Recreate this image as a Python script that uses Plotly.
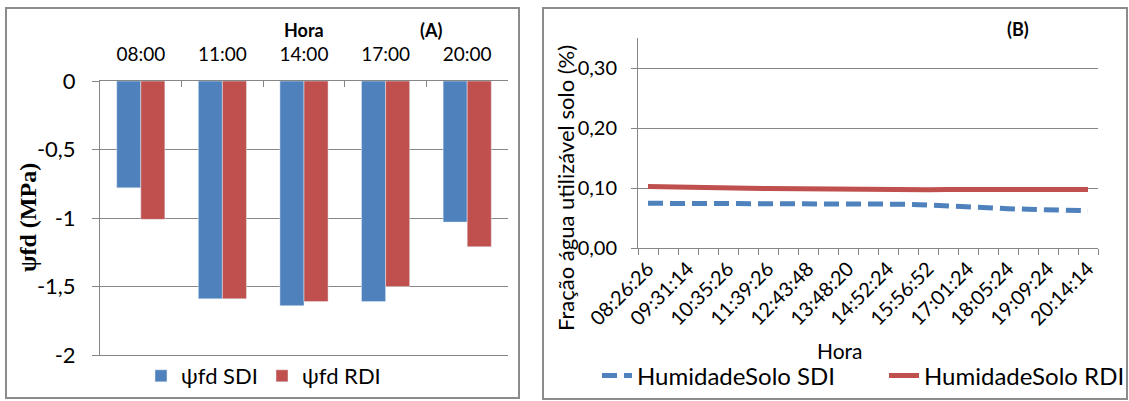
import plotly.graph_objects as go

# ---------------- data ----------------
# Panel A
horas_a = ["08:00", "11:00", "14:00", "17:00", "20:00"]
psi_sdi = [-0.78, -1.59, -1.64, -1.61, -1.03]
psi_rdi = [-1.01, -1.59, -1.61, -1.50, -1.21]
ya_ticks = [0, -0.5, -1, -1.5, -2]
ya_text = ["0", "-0,5", "-1", "-1,5", "-2"]

# Panel B (23 readings, every second one labelled)
hum_sdi = [0.075, 0.075, 0.075, 0.075, 0.075, 0.075, 0.075, 0.075, 0.075, 0.075,
           0.075, 0.075, 0.0745, 0.0735, 0.072, 0.070, 0.068, 0.067, 0.066, 0.065,
           0.064, 0.063, 0.0627]
hum_rdi = [0.103, 0.102, 0.1015, 0.101, 0.1005, 0.100, 0.0995, 0.099, 0.0985, 0.098,
           0.098, 0.0978, 0.0975, 0.0975, 0.0975, 0.0978, 0.098, 0.098, 0.098, 0.098,
           0.098, 0.098, 0.098]
hora_labels_b = ["08:26:26", "09:31:14", "10:35:26", "11:39:26", "12:43:48", "13:48:20",
                 "14:52:24", "15:56:52", "17:01:24", "18:05:24", "19:09:24", "20:14:14"]
yb_ticks = [0, 0.1, 0.2, 0.3]
yb_text = ["0,00", "0,10", "0,20", "0,30"]

# ---------------- style ----------------
W, H = 1129, 401
BLUE = "#4F81BD"
RED = "#C0504D"
GRID = "#868686"
BORDER = "#8C8C8C"
FONT = "Lato, 'DejaVu Sans', sans-serif"


def px(x):
    return x / W


def py(y):
    return 1 - y / H


fig = go.Figure()

fig.add_trace(go.Bar(x=horas_a, y=psi_sdi, name="ψfd SDI", marker_color=BLUE,
                     xaxis="x", yaxis="y", legend="legend"))
fig.add_trace(go.Bar(x=horas_a, y=psi_rdi, name="ψfd RDI", marker_color=RED,
                     xaxis="x", yaxis="y", legend="legend"))

xb = list(range(len(hum_sdi)))
fig.add_trace(go.Scatter(x=xb, y=hum_sdi, mode="lines", name="HumidadeSolo SDI",
                         line=dict(color=BLUE, width=5, dash="15px,7px"),
                         xaxis="x2", yaxis="y2", legend="legend2"))
fig.add_trace(go.Scatter(x=xb, y=hum_rdi, mode="lines", name="HumidadeSolo RDI",
                         line=dict(color=RED, width=5),
                         xaxis="x2", yaxis="y2", legend="legend2"))

fig.update_layout(
    width=W, height=H,
    margin=dict(l=0, r=0, t=0, b=0, autoexpand=False),
    paper_bgcolor="white", plot_bgcolor="white",
    font=dict(family=FONT, color="black"),
    bargap=0.41, bargroupgap=0,
    barmode="group",
    xaxis=dict(domain=[px(100), px(508)], anchor="y", side="top", type="category",
               showline=True, linecolor=GRID, linewidth=1, mirror=True,
               ticks="inside", tickson="boundaries", ticklen=6, tickcolor=GRID,
               tickfont=dict(size=19, family=FONT), ticklabelstandoff=11,
               showgrid=False, zeroline=False, automargin=False),
    yaxis=dict(domain=[py(355), py(81)], anchor="x", range=[-2, 0],
               tickvals=ya_ticks, ticktext=ya_text,
               ticks="outside", ticklen=7, tickcolor=GRID,
               showgrid=True, gridcolor=GRID, gridwidth=1,
               showline=True, linecolor=GRID, linewidth=1, zeroline=False,
               tickfont=dict(size=22, family=FONT), ticklabelstandoff=12,
               automargin=False),
    xaxis2=dict(domain=[px(638), px(1098)], anchor="y2", range=[-0.5, 22.5],
                tickvals=xb[::2], ticktext=hora_labels_b, tickangle=-45,
                ticks="", showline=True, linecolor=GRID, linewidth=1,
                minor=dict(ticks="outside", ticklen=6, tickcolor=GRID,
                           tick0=-0.5, dtick=1, showgrid=False),
                tickfont=dict(size=20, family=FONT),
                showgrid=False, zeroline=False, automargin=False),
    yaxis2=dict(domain=[py(248.3), py(38.3)], anchor="x2", range=[0, 0.35],
                tickvals=yb_ticks, ticktext=yb_text,
                ticks="outside", ticklen=6, tickcolor=GRID,
                showgrid=True, gridcolor=GRID, gridwidth=1,
                showline=True, linecolor=GRID, linewidth=1, zeroline=False,
                tickfont=dict(size=20, family=FONT), ticklabelstandoff=10,
                automargin=False),
    legend=dict(orientation="h", x=px(141), y=py(376), xanchor="left", yanchor="middle",
                font=dict(size=22, family=FONT), bgcolor="rgba(0,0,0,0)",
                entrywidth=76, tracegroupgap=0),
    legend2=dict(orientation="h", x=px(597), y=py(376), xanchor="left", yanchor="middle",
                 font=dict(size=24, family=FONT), bgcolor="rgba(0,0,0,0)",
                 entrywidth=242),
    showlegend=True,
)

# panel borders
fig.add_shape(type="rect", xref="paper", yref="paper",
              x0=px(6), x1=px(519), y0=py(398), y1=py(8),
              line=dict(color=BORDER, width=2))
fig.add_shape(type="rect", xref="paper", yref="paper",
              x0=px(543), x1=px(1127), y0=py(399), y1=py(8),
              line=dict(color=BORDER, width=2))

ann = [
    dict(text="<b>Hora</b>", x=px(304), y=py(30), font=dict(size=18, family=FONT)),
    dict(text="<b>(A)</b>", x=px(431), y=py(30), font=dict(size=18, family=FONT)),
    dict(text="<b>(B)</b>", x=px(1018), y=py(29), font=dict(size=18, family=FONT)),
    dict(text="<b>ψfd (MPa)</b>", x=px(28), y=py(218), textangle=-90,
         font=dict(size=24, family="'Liberation Serif', 'DejaVu Serif', serif")),
    dict(text="Fração água utilizável solo (%)", x=px(565), y=py(188), textangle=-90,
         font=dict(size=22, family=FONT)),
    dict(text="Hora", x=px(840), y=py(350), font=dict(size=21, family=FONT)),
]
for a in ann:
    fig.add_annotation(xref="paper", yref="paper", showarrow=False,
                       xanchor="center", yanchor="middle", **a)

fig.write_html("out.html",
               config={"displayModeBar": False},
               post_script="document.body.style.margin='0';document.body.style.overflow='hidden';")
